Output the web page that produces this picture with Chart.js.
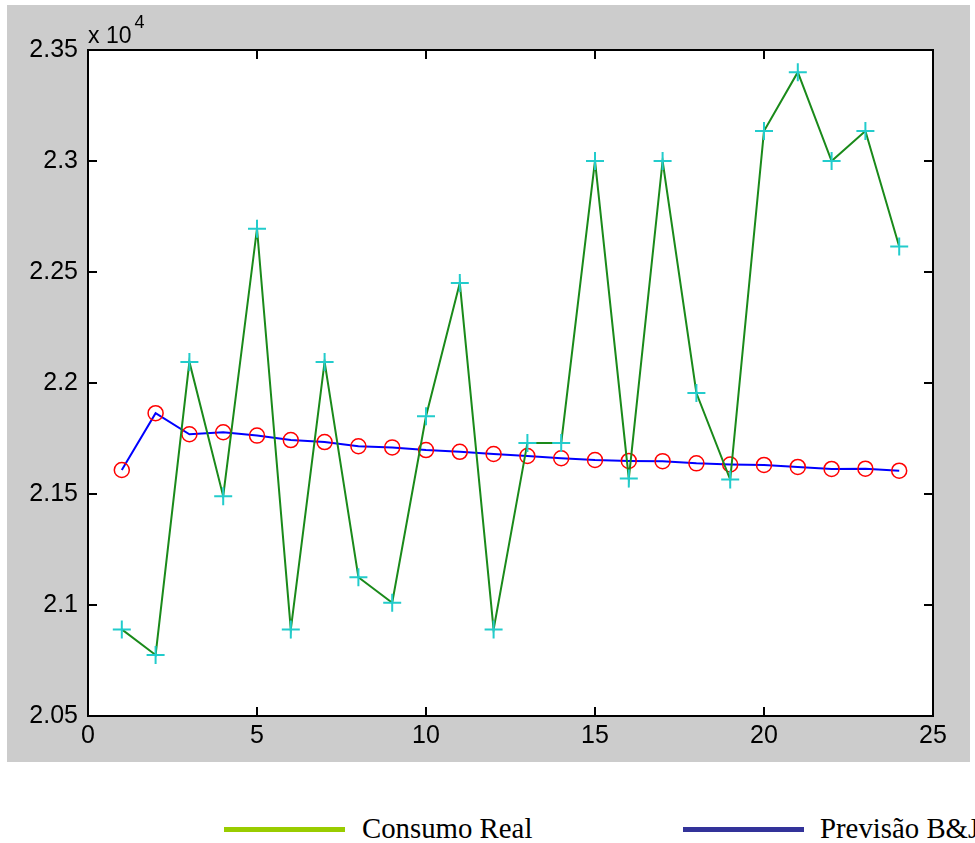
<!DOCTYPE html>
<html lang="pt">
<head>
    <meta charset="UTF-8">
    <title>Consumo Real vs Previsão B&amp;J</title>
    <script src="https://cdnjs.cloudflare.com/ajax/libs/Chart.js/4.4.1/chart.umd.min.js"></script>
    <style>
        body {
            margin: 0;
            width: 975px;
            height: 843px;
            overflow: hidden;
            background-color: #ffffff;
            position: relative;
        }
        .plot-box {
            position: absolute;
            left: 7px;
            top: 5px;
            width: 963px;
            height: 757px;
        }
        .exponent {
            position: absolute;
            left: 88px;
            top: 17px;
            font-family: "Liberation Sans", Arial, sans-serif;
            font-size: 23px;
            line-height: 23px;
            color: #000;
        }
        .exponent sup {
            font-size: 18px;
            position: relative;
            top: -6px;
            margin-left: 3px;
        }
        .legend-bar {
            position: absolute;
            top: 827px;
            width: 121px;
            height: 5px;
        }
        .legend-text {
            position: absolute;
            top: 813px;
            font-family: "Liberation Serif", "Times New Roman", serif;
            font-size: 30px;
            line-height: 30px;
            color: #000;
            white-space: nowrap;
            transform: scaleX(0.96);
            transform-origin: left center;
        }
    </style>
</head>
<body>
    <div class="plot-box">
        <canvas id="grafico"></canvas>
    </div>
    <div class="exponent">x 10<sup>4</sup></div>

    <div class="legend-bar" style="left: 224px; background-color: #99CC00;"></div>
    <div class="legend-text" style="left: 362px;">Consumo Real</div>
    <div class="legend-bar" style="left: 683px; background-color: #333399;"></div>
    <div class="legend-text" style="left: 820px;">Previsão B&amp;J</div>

    <script>
        // periodos (meses) e series
        const periodos = [1, 2, 3, 4, 5, 6, 7, 8, 9, 10, 11, 12, 13, 14, 15, 16, 17, 18, 19, 20, 21, 22, 23, 24];
        const consumoReal = [20890, 20775, 22095, 21490, 22695, 20890, 22095, 21125, 21010, 21850, 22450, 20890,
                             21730, 21730, 23000, 21570, 23000, 21955, 21565, 23135, 23400, 23000, 23135, 22615];
        const previsaoBJ = [21608, 21864, 21769, 21778, 21763, 21743, 21734, 21715, 21710, 21698, 21690, 21680,
                            21671, 21661, 21653, 21649, 21648, 21638, 21633, 21631, 21622, 21613, 21614, 21605];

        const xTicks = [0, 5, 10, 15, 20, 25];
        const yTicks = [20500, 21000, 21500, 22000, 22500, 23000, 23500];

        const toPoints = serie => serie.map((v, i) => ({ x: periodos[i], y: v }));

        // fundo cinza, caixa do eixo e marcas de escala para dentro
        const molduraPlugin = {
            id: 'moldura',
            beforeDraw(chart) {
                const { ctx, chartArea: a, width, height } = chart;
                ctx.save();
                ctx.fillStyle = '#CCCCCC';
                ctx.fillRect(0, 0, width, height);
                ctx.fillStyle = '#FFFFFF';
                ctx.fillRect(a.left, a.top, a.right - a.left, a.bottom - a.top);
                ctx.restore();
            },
            afterDraw(chart) {
                const { ctx, chartArea: a } = chart;
                const xs = chart.scales.x, ys = chart.scales.y;
                const len = 9;
                ctx.save();
                ctx.strokeStyle = '#000000';
                ctx.lineWidth = 2;
                ctx.beginPath();
                xs.ticks.forEach(t => {
                    const px = Math.round(xs.getPixelForValue(t.value));
                    ctx.moveTo(px, a.bottom); ctx.lineTo(px, a.bottom - len);
                    ctx.moveTo(px, a.top); ctx.lineTo(px, a.top + len);
                });
                ys.ticks.forEach(t => {
                    const py = Math.round(ys.getPixelForValue(t.value));
                    ctx.moveTo(a.left, py); ctx.lineTo(a.left + len, py);
                    ctx.moveTo(a.right, py); ctx.lineTo(a.right - len, py);
                });
                ctx.stroke();
                ctx.strokeRect(a.left, a.top, a.right - a.left, a.bottom - a.top);
                ctx.restore();
            }
        };

        const tickFont = { family: '"Liberation Sans", Arial, sans-serif', size: 25 };

        new Chart(document.getElementById('grafico'), {
            type: 'line',
            data: {
                datasets: [
                    {
                        label: 'Consumo Real',
                        data: toPoints(consumoReal),
                        borderColor: '#1A8A1A',
                        borderWidth: 2,
                        pointStyle: 'cross',
                        pointRadius: 9,
                        pointBorderColor: '#22CCCC',
                        pointBorderWidth: 2,
                        pointBackgroundColor: 'rgba(0,0,0,0)',
                        tension: 0
                    },
                    {
                        label: 'Previsão B&J',
                        data: toPoints(previsaoBJ),
                        borderColor: '#0000FF',
                        borderWidth: 2,
                        pointStyle: 'circle',
                        pointRadius: 7.5,
                        pointBorderColor: '#FF0000',
                        pointBorderWidth: 1.5,
                        pointBackgroundColor: 'rgba(0,0,0,0)',
                        tension: 0
                    }
                ]
            },
            options: {
                responsive: true,
                maintainAspectRatio: false,
                animation: false,
                events: [],
                layout: { padding: { top: 45, right: 37, left: 0, bottom: 0 } },
                plugins: {
                    legend: { display: false },
                    tooltip: { enabled: false }
                },
                scales: {
                    x: {
                        type: 'linear',
                        min: 0,
                        max: 25,
                        afterBuildTicks: scale => { scale.ticks = xTicks.map(v => ({ value: v })); },
                        afterFit: scale => { scale.height = 46; },
                        grid: { display: false, drawTicks: false },
                        border: { display: false },
                        ticks: { color: '#000', font: tickFont, padding: 5, maxRotation: 0 }
                    },
                    y: {
                        type: 'linear',
                        min: 20500,
                        max: 23500,
                        afterBuildTicks: scale => { scale.ticks = yTicks.map(v => ({ value: v })); },
                        afterFit: scale => { scale.width = 81; },
                        grid: { display: false, drawTicks: false },
                        border: { display: false },
                        ticks: {
                            color: '#000',
                            font: tickFont,
                            padding: 10,
                            callback: v => String(Number((v / 10000).toFixed(2)))
                        }
                    }
                }
            },
            plugins: [molduraPlugin]
        });
    </script>
</body>
</html>
